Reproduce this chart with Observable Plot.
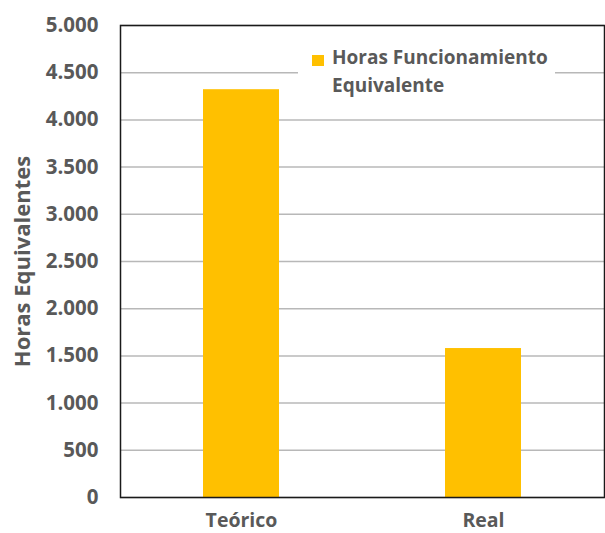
<!DOCTYPE html>
<html>
<head>
<meta charset="utf-8">
<script src="https://cdn.jsdelivr.net/npm/d3@7"></script>
<script src="https://cdn.jsdelivr.net/npm/@observablehq/plot@0.6"></script>
<style>
  html, body { margin: 0; padding: 0; background: #fff; }
  #wrap { position: relative; width: 605px; height: 533px; font-family: "Open Sans", sans-serif; }
  #legend { position: absolute; left: 298px; top: 44px; width: 257px; height: 56px; background: #fff;
            color: #595959; font-weight: 700; font-size: 19px; line-height: 28px; }
  #legend .sw { position: absolute; left: 14px; top: 11px; width: 12px; height: 11px; background: #FFC000; }
  #legend .tx { position: absolute; left: 34px; top: -1px; white-space: nowrap; }
  #wrap svg g[aria-label="y-axis label"] text { font-size: 22px; }
</style>
</head>
<body>
<div id="wrap"></div>
<script>
const categories = ["Teórico", "Real"];
const values = [4320, 1578];
const seriesName = "Horas Funcionamiento Equivalente";
const yTicks = [0, 500, 1000, 1500, 2000, 2500, 3000, 3500, 4000, 4500, 5000];
const yLabel = "Horas Equivalentes";

const data = categories.map((c, i) => ({ cat: c, value: values[i] }));
const fmt = d3.formatLocale({ decimal: ",", thousands: ".", grouping: [3], currency: ["", "€"] }).format(",");

const textColor = "#595959";
const chart = Plot.plot({
  width: 605,
  height: 533,
  marginLeft: 120,
  marginRight: 1,
  marginTop: 25,
  marginBottom: 36,
  style: { fontFamily: "'Open Sans', sans-serif", fontSize: "20.5px", fontWeight: 700, color: textColor, background: "#fff" },
  x: { domain: categories, padding: 0 },
  y: { domain: [0, 5000] },
  marks: [
    Plot.gridY(yTicks, { stroke: "#b8b8b8", strokeOpacity: 1, strokeWidth: 1.5 }),
    Plot.barY(data, { x: "cat", y: "value", fill: "#FFC000", insetLeft: 83, insetRight: 83 }),
    Plot.frame({ stroke: "#1a1a1a", strokeWidth: 1.5 }),
    Plot.axisY(yTicks, { tickSize: 0, tickPadding: 22, tickFormat: fmt, fill: textColor, fontSize: 20.5,
      label: yLabel, labelAnchor: "center", labelArrow: "none", labelOffset: 106 }),
    Plot.axisX({ tickSize: 0, tickPadding: 16, fill: textColor, fontSize: 19.5, label: null })
  ]
});
const wrap = document.getElementById("wrap");
wrap.appendChild(chart);
const lg = document.createElement("div");
lg.id = "legend";
const words = seriesName.split(" ");
lg.innerHTML = '<span class="sw"></span><span class="tx">' + words.slice(0, 2).join(" ") + "<br>" + words.slice(2).join(" ") + "</span>";
wrap.appendChild(lg);
</script>
</body>
</html>
